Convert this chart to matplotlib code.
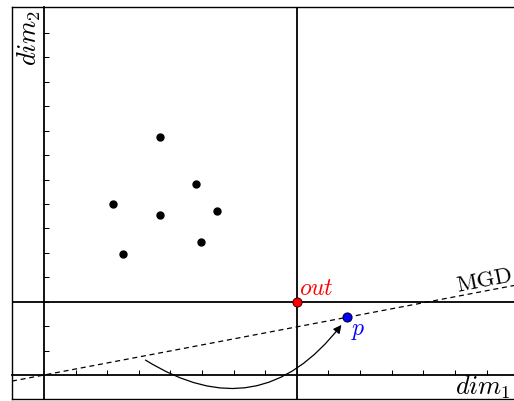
import matplotlib
matplotlib.use("Agg")
import matplotlib.pyplot as plt

plt.rcParams['mathtext.fontset'] = 'cm'

# nuvem de pontos (coordenadas no espaco dim1 x dim2)
cloud_x = [3.66, 4.81, 2.19, 3.66, 5.48, 4.97, 2.50]
cloud_y = [9.73, 7.83, 7.00, 6.56, 6.73, 5.43, 4.94]

out_pt = (8.0, 3.0)
p_pt = (9.58, 2.36)
mgd_slope = p_pt[1] / p_pt[0]

arrow_start = (3.21, 0.61)
arrow_end = (9.41, 2.05)

x_ticks = list(range(1, 15))
y_ticks = list(range(1, 15))

xlim = (-1.013, 14.87)
ylim = (-0.982, 15.06)

fig = plt.figure(figsize=(5.14, 4.01), dpi=100)
pos = [12 / 514, 2 / 401, 502 / 514, 392 / 401]

# moldura
frame = fig.add_axes(pos)
frame.set_xticks([])
frame.set_yticks([])
frame.spines['right'].set_visible(False)
for s in ['left', 'top', 'bottom']:
    frame.spines[s].set_linewidth(1.0)

ax = fig.add_axes(pos, facecolor='none')
ax.set_xlim(*xlim)
ax.set_ylim(*ylim)
ax.spines['left'].set_position(('data', 0))
ax.spines['bottom'].set_position(('data', 0))
ax.spines['right'].set_visible(False)
ax.spines['top'].set_visible(False)
ax.spines['left'].set_linewidth(1.3)
ax.spines['bottom'].set_linewidth(1.3)
ax.set_xticks(x_ticks)
ax.set_yticks(y_ticks)
ax.set_xticklabels([])
ax.set_yticklabels([])
ax.tick_params(direction='in', length=3.6, width=0.75)

# linhas por "out"
ax.axvline(out_pt[0], color='black', lw=1.3)
ax.axhline(out_pt[1], color='black', lw=1.3)

# reta MGD
xs = [xlim[0], xlim[1]]
ax.plot(xs, [mgd_slope * v for v in xs], color='black', lw=0.9,
        dashes=(4.0, 3.0))

ax.plot(cloud_x, cloud_y, 'o', color='black', ms=5)
ax.plot(*out_pt, 'o', color='red', mec='#550000', ms=6.5, mew=0.8)
ax.plot(*p_pt, 'o', color='blue', mec='#000033', ms=6.5, mew=0.8)

ax.annotate('', xy=arrow_end, xytext=arrow_start,
            arrowprops=dict(arrowstyle='-|>', connectionstyle='arc3,rad=0.45',
                            lw=0.9, color='black', shrinkA=0, shrinkB=0,
                            mutation_scale=12))

ax.text(8.06, 3.27, r'$out$', color='red', fontsize=17)
ax.text(9.70, 1.64, r'$p$', color='blue', fontsize=17)
ax.text(13.08, 3.40, r'$\mathrm{MGD}$', fontsize=16.5, rotation=11,
        rotation_mode='anchor', ha='left', va='baseline')
ax.text(14.76, -0.78, r'$dim_1$', fontsize=19, ha='right', va='baseline')
ax.text(-0.25, 14.94, r'$dim_2$', fontsize=19, rotation=90,
        rotation_mode='anchor', ha='right', va='baseline')

fig.savefig('out.png', dpi=100)
